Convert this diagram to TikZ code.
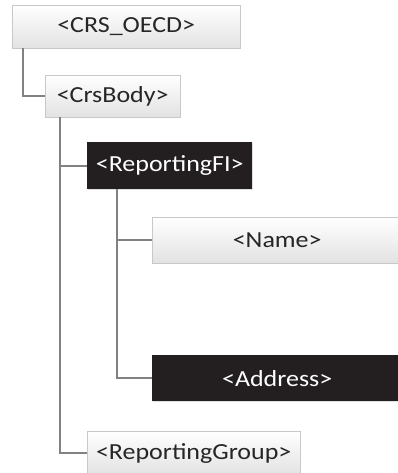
\documentclass[tikz,border=0pt]{standalone}
\usepackage{fontspec}
\setmainfont{Carlito}
\newfontfamily\tagfont[FakeStretch=1.13]{Carlito}
\usetikzlibrary{shadows}
\definecolor{linegray}{RGB}{130,130,130}
\definecolor{boxgray}{RGB}{200,200,200}
\definecolor{boxbottom}{RGB}{226,226,226}
\definecolor{darkfill}{RGB}{35,31,32}
\tikzset{
  tag/.style={anchor=north west, inner sep=0pt, font=\tagfont\fontsize{23}{27}\selectfont,
    drop shadow={shadow xshift=1pt, shadow yshift=-1pt, opacity=0.25}},
  lighttag/.style={tag, draw=boxgray, top color=white, bottom color=boxbottom, text=black!85},
  darktag/.style={tag, fill=darkfill, text=white},
  link/.style={draw=linegray, line width=1.6pt}
}
\begin{document}
\begin{tikzpicture}[x=1pt, y=-1pt]
  \useasboundingbox (0,0) rectangle (398,473);
  \clip (0,0) rectangle (398,473);
  % boxes
  \node[lighttag, minimum width=228pt, minimum height=43pt] (oecd) at (12,5) {<CRS\_OECD>};
  \node[lighttag, minimum width=135pt, minimum height=42pt] (body) at (45,75) {<CrsBody>};
  \node[darktag, minimum width=165pt, minimum height=47pt] (fi) at (87,142) {<ReportingFI>};
  \node[lighttag, minimum width=250pt, minimum height=46pt] (name) at (152,217) {<Name>};
  \node[darktag, minimum width=250pt, minimum height=46pt] (addr) at (152,355) {<Address>};
  \node[lighttag, minimum width=213pt, minimum height=44pt] (group) at (87,431) {<ReportingGroup>};
  % connectors
  \begin{scope}[on background layer/.try]
    \draw[link] ([xshift=11pt]oecd.south west) |- (body.west);
    \draw[link] ([xshift=15pt]body.south west) |- (fi.west);
    \draw[link] ([xshift=15pt]body.south west) |- (group.west);
    \draw[link] ([xshift=30pt]fi.south west) |- (name.west);
    \draw[link] ([xshift=30pt]fi.south west) |- (addr.west);
  \end{scope}
\end{tikzpicture}
\end{document}
